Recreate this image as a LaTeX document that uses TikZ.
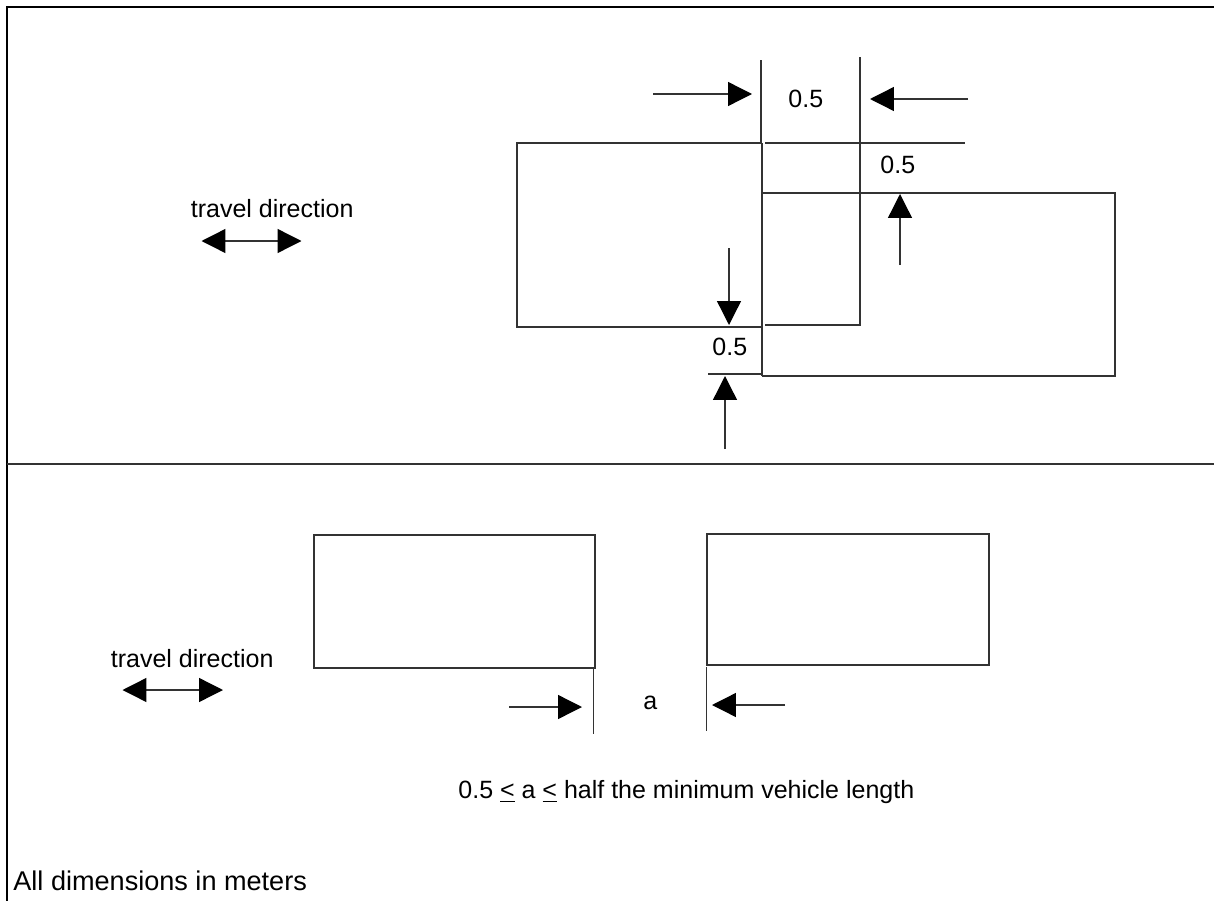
\documentclass[tikz,border=0pt]{standalone}
\usepackage{fontspec}
\setmainfont{Liberation Sans}
\usetikzlibrary{arrows.meta}
\begin{document}
\begin{tikzpicture}[x=0.48pt,y=-0.48pt,
  ln/.style={line width=0.65pt, draw=black!80},
  framel/.style={line width=1pt, draw=black},
  tip/.tip={Triangle[length=11.5pt,width=11.5pt,color=black]},
  dimarrow/.style={ln, -tip},
  dblarrow/.style={ln, tip-tip},
  lbl/.style={inner sep=0pt, anchor=base west, font=\fontsize{12}{14}\selectfont}]
\useasboundingbox (0,0) rectangle (1214,901);
% frame
\draw[framel] (1214,7) -- (7,7) -- (7,901);
\draw[ln] (7,464) -- (1214,464);

% ---------- top section ----------
% vehicle A
\draw[ln] (761,143) -- (517,143) -- (517,327) -- (762,327);
\draw[ln] (761,60) -- (761,143);
\draw[ln] (762,143) -- (762,376);
% ghost outline and extension lines
\draw[ln] (765,143) -- (965,143);
\draw[ln] (860,57) -- (860,325) -- (765,325);
% vehicle B
\draw[ln] (762,193) -- (1115,193) -- (1115,376) -- (762,376);
\draw[ln] (708,374) -- (762,374);

% dimension arrows
\coordinate (h1s) at (653,94);  \coordinate (h1e) at (752,94);
\coordinate (h2s) at (968,99);  \coordinate (h2e) at (870,99);
\coordinate (v1s) at (900,265); \coordinate (v1e) at (900,194);
\coordinate (v2s) at (729,248); \coordinate (v2e) at (729,325);
\coordinate (v3s) at (725,449); \coordinate (v3e) at (725,376);
\draw[dimarrow] (h1s) -- (h1e);
\draw[dimarrow] (h2s) -- (h2e);
\draw[dimarrow] (v1s) -- (v1e);
\draw[dimarrow] (v2s) -- (v2e);
\draw[dimarrow] (v3s) -- (v3e);

\node[lbl] (d1) at (788,107.5) {0.5};
\node[lbl] (d2) at (880,173.5) {0.5};
\node[lbl] (d3) at (712,355) {0.5};

% travel direction (top)
\node[lbl] (t1) at (190.5,217.5) {travel direction};
\coordinate (ta) at (201.5,241); \coordinate (tb) at (301.5,241);
\draw[dblarrow] (ta) -- (tb);

% ---------- bottom section ----------
\draw[ln] (314,535) rectangle (595,668);
\draw[ln] (593.5,668) -- (593.5,734);
\draw[ln] (707,534) rectangle (989,665);
\draw[ln] (706.5,667) -- (706.5,731);

\coordinate (b1s) at (509,707); \coordinate (b1e) at (582,707);
\coordinate (b2s) at (785,705); \coordinate (b2e) at (712,705);
\draw[dimarrow] (b1s) -- (b1e);
\draw[dimarrow] (b2s) -- (b2e);
\node[lbl] (aa) at (643,709) {a};

\node[lbl] (t2) at (110.5,667) {travel direction};
\coordinate (tc) at (122.5,690); \coordinate (td) at (223,690);
\draw[dblarrow] (tc) -- (td);

\node[lbl] (rule) at (458,798) {0.5 \underline{<} a \underline{<} half the minimum vehicle length};
\node[lbl, font=\fontsize{13}{15}\selectfont] (note) at (13,890) {All dimensions in meters};
\end{tikzpicture}
\end{document}
